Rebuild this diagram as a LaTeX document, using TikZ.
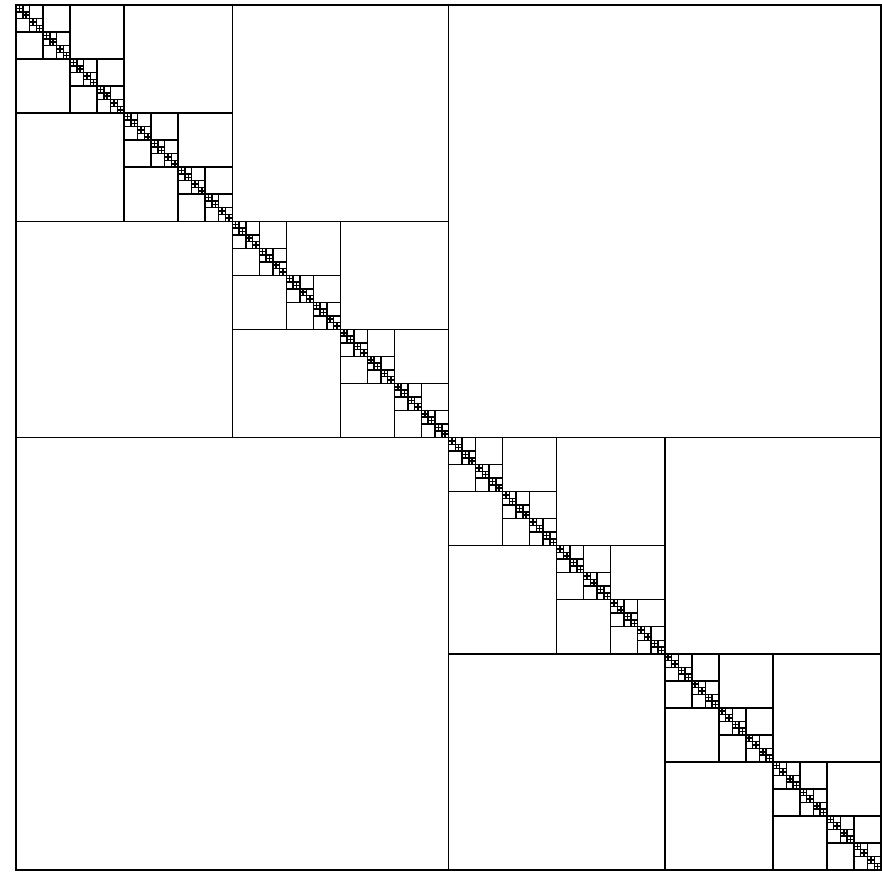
\documentclass[tikz,border=0pt]{standalone}
\usepackage{tikz}
\usetikzlibrary{calc}

\tikzset{
    blocco/.style={black, line width=1.5pt}
}

\begin{document}
\begin{tikzpicture}[x=1pt, y=-1pt]
    \useasboundingbox (0,0) rectangle (882,871);

    % Contorno della matrice
    \draw[blocco] (16,5) rectangle (881,870);

    % Suddivisione ricorsiva dei blocchi diagonali
    \foreach \k in {1,...,8}{
        \pgfmathsetmacro{\s}{865/2^\k}
        \pgfmathtruncatemacro{\n}{2^(\k-1)-1}
        \foreach \i in {0,...,\n}{
            \pgfmathsetmacro{\a}{2*\i*\s}
            \draw[blocco] (16+\a+\s, 5+\a) -- ++(0, 2*\s);
            \draw[blocco] (16+\a, 5+\a+\s) -- ++(2*\s, 0);
        }
    }
\end{tikzpicture}
\end{document}
